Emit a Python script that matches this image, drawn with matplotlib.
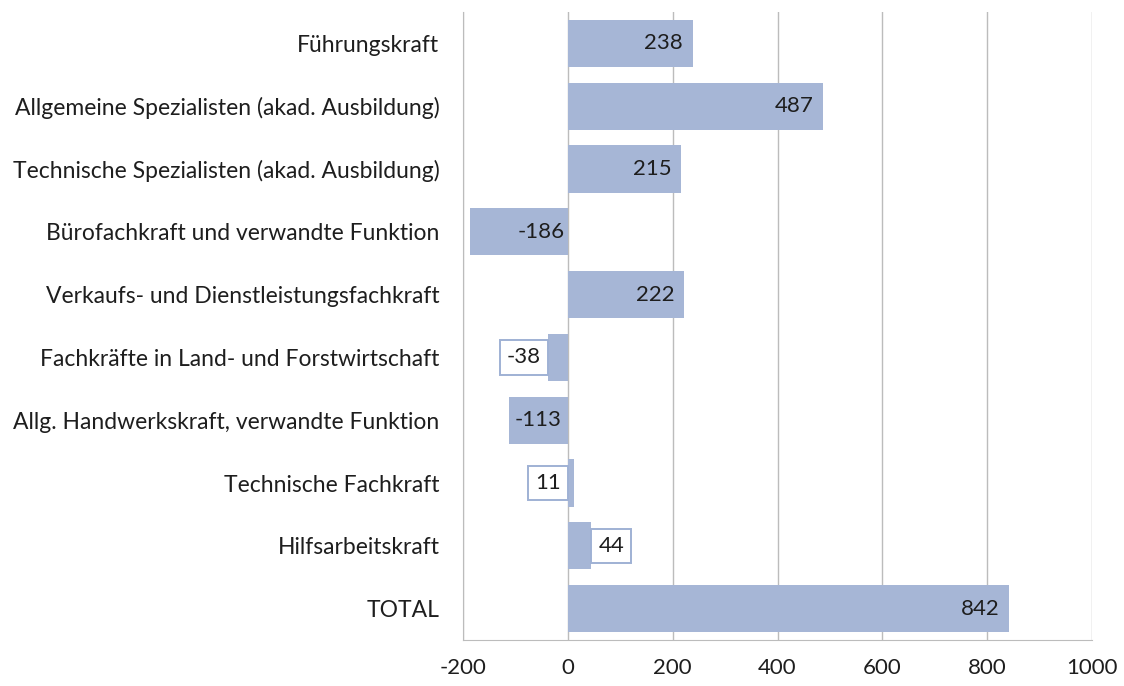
import matplotlib.pyplot as plt

categories = [
    "Führungskraft",
    "Allgemeine Spezialisten (akad. Ausbildung)",
    "Technische Spezialisten (akad. Ausbildung)",
    "Bürofachkraft und verwandte Funktion",
    "Verkaufs- und Dienstleistungsfachkraft",
    "Fachkräfte in Land- und Forstwirtschaft",
    "Allg. Handwerkskraft, verwandte Funktion",
    "Technische Fachkraft",
    "Hilfsarbeitskraft",
    "TOTAL",
]
values = [238, 487, 215, -186, 222, -38, -113, 11, 44, 842]
x_ticks = [-200, 0, 200, 400, 600, 800, 1000]

bar_color = "#a6b6d6"
grid_color = "#bcbcbc"
text_color = "#1e1e1e"
plt.rcParams["font.family"] = ["Lato", "DejaVu Sans"]
plt.rcParams["text.color"] = text_color

fig = plt.figure(figsize=(11.24, 6.86), dpi=100)
ax = fig.add_axes([0.412, 0.067, 0.5595, 0.9155])

y = list(range(len(categories)))
ax.barh(y, values, height=0.75, color=bar_color, zorder=2)

# Value labels, placed the way the original chart does it
box = dict(boxstyle="square,pad=0.32", facecolor="white", edgecolor="#9fb1d4", linewidth=1.4)
fs = 16
for i, v in enumerate(values):
    if v >= 150:
        ax.text(v - 18, i, str(v), ha="right", va="center", fontsize=fs, zorder=3)
    elif v <= -150:
        ax.text(-6, i, str(v), ha="right", va="center", fontsize=fs, zorder=3)
    elif v <= -100:
        ax.text(v / 2, i, str(v), ha="center", va="center", fontsize=fs, zorder=3)
    elif v < 0:
        ax.text(v - 13, i, str(v), ha="right", va="center", fontsize=fs, zorder=3, bbox=box)
    elif v < 20:
        ax.text(-14, i, str(v), ha="right", va="center", fontsize=fs, zorder=3, bbox=box)
    else:
        ax.text(v + 14, i, str(v), ha="left", va="center", fontsize=fs, zorder=3, bbox=box)

ax.set_xlim(-200, 1000)
ax.set_ylim(len(categories) - 0.5, -0.5)
ax.set_xticks(x_ticks)
ax.set_xticklabels([str(t) for t in x_ticks], fontsize=16, color=text_color)
ax.set_yticks(y)
ax.set_yticklabels(categories, fontsize=16.5, color=text_color)
ax.tick_params(axis="y", length=0, pad=17)
ax.tick_params(axis="x", length=0, pad=13)

ax.grid(axis="x", color=grid_color, linewidth=1, zorder=0)
ax.set_axisbelow(True)
for side in ["top", "right"]:
    ax.spines[side].set_visible(False)
ax.spines["left"].set_color(grid_color)
ax.spines["bottom"].set_color(grid_color)

plt.savefig("out.png", dpi=100)
